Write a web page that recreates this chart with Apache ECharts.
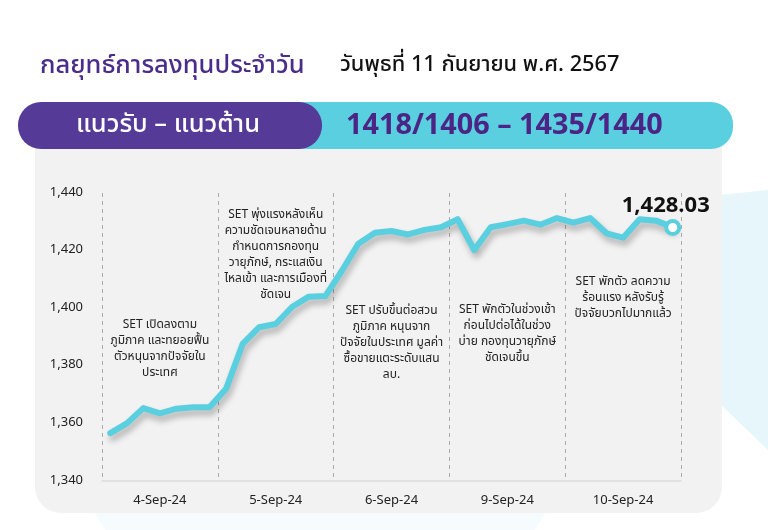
<!DOCTYPE html>
<html>
<head>
<meta charset="utf-8">
<script src="https://cdn.jsdelivr.net/npm/echarts@6/dist/echarts.min.js"></script>
<style>
html,body{margin:0;padding:0;background:#fff;}
#c{width:768px;height:530px;}
</style>
</head>
<body>
<div id="c"></div>
<script>
var days = ['4-Sep-24','5-Sep-24','6-Sep-24','9-Sep-24','10-Sep-24'];
var setIndex = [
  1356.6, 1360.0, 1365.3, 1363.5, 1365.1, 1365.6, 1365.6,
  1372.0, 1387.6, 1393.4, 1394.5, 1400.5, 1404.0, 1404.2,
  1413.0, 1422.4, 1426.2, 1426.8, 1425.6, 1427.2, 1428.1,
  1430.9, 1420.2, 1428.1, 1429.2, 1430.4, 1429.0, 1431.3,
  1429.7, 1431.3, 1426.0, 1424.5, 1430.9, 1430.4, 1428.03
];
var yTicks = [1340, 1360, 1380, 1400, 1420, 1440];
var notes = [
  ['SET เปิดลงตาม','ภูมิภาค และทยอยฟื้น','ตัวหนุนจากปัจจัยใน','ประเทศ'],
  ['SET พุ่งแรงหลังเห็น','ความชัดเจนหลายด้าน','กำหนดการกองทุน','วายุภักษ์, กระแสเงิน','ไหลเข้า และการเมืองที่','ชัดเจน'],
  ['SET ปรับขึ้นต่อสวน','ภูมิภาค หนุนจาก','ปัจจัยในประเทศ มูลค่า','ซื้อขายแตะระดับแสน','ลบ.'],
  ['SET พักตัวในช่วงเช้า','ก่อนไปต่อได้ในช่วง','บ่าย กองทุนวายุภักษ์','ชัดเจนขึ้น'],
  ['SET พักตัว ลดความ','ร้อนแรง หลังรับรู้','ปัจจัยบวกไปมากแล้ว']
];
var noteTopValue = [1396.6, 1435.1, 1401.5, 1402.1, 1411.8];
var titleText = 'กลยุทธ์การลงทุนประจำวัน';
var dateText = 'วันพุธที่ 11 กันยายน พ.ศ. 2567';
var barLeftText = 'แนวรับ – แนวต้าน';
var barRightText = '1418/1406 – 1435/1440';

var FONT = '"Noto Sans Thai","Noto Sans","DejaVu Sans",sans-serif';
var CYAN = '#5ACFDF';
var PURPLE = '#553B97';

var slots = setIndex.map(function(v, i){ return String(i); });
var seriesData = setIndex.map(function(v, i){
  if (i === setIndex.length - 1) {
    return {
      value: v,
      symbol: 'circle',
      symbolSize: 13,
      itemStyle: {color: '#fff', borderColor: CYAN, borderWidth: 4},
      label: {
        show: true, position: 'top', offset: [-7, 5],
        formatter: function(p){ return p.value.toLocaleString('en-US',{minimumFractionDigits:2}); },
        fontSize: 22, fontWeight: 'bold', color: '#111', fontFamily: FONT
      }
    };
  }
  return {value: v, symbol: 'none'};
});

var chart = echarts.init(document.getElementById('c'), null, {renderer: 'canvas'});

var bgGraphics = [
  {type: 'polygon', z: -10, silent: true,
   shape: {points: [[640,205],[700,197],[768,190],[768,450],[722,406],[660,350]]},
   style: {fill: '#E6F6FA'}},
  {type: 'polygon', z: -10, silent: true,
   shape: {points: [[95,513],[545,513],[535,530],[105,530]]},
   style: {fill: '#F6FCFD'}},
  {type: 'rect', z: -9, silent: true,
   shape: {x: 35, y: 140, width: 687, height: 373, r: [0,0,26,26]},
   style: {fill: '#F2F2F2'}},
  {type: 'rect', z: -8, silent: true,
   shape: {x: 290, y: 102, width: 443, height: 47, r: [0,22,22,0]},
   style: {fill: CYAN}},
  {type: 'rect', z: -7, silent: true,
   shape: {x: 18, y: 102, width: 304, height: 47, r: [23,23,23,23]},
   style: {fill: PURPLE}},
  {type: 'text', z: 5, silent: true, x: 40, y: 68,
   style: {text: titleText, fill: '#4A2C8A', font: '500 25.5px ' + FONT, textVerticalAlign: 'middle'}},
  {type: 'text', z: 5, silent: true, x: 340, y: 67,
   style: {text: dateText, fill: '#111', font: '500 21.8px ' + FONT, textVerticalAlign: 'middle'}},
  {type: 'text', z: 5, silent: true, x: 168, y: 127,
   style: {text: barLeftText, fill: '#fff', font: '500 25.5px ' + FONT, textAlign: 'center', textVerticalAlign: 'middle'}},
  {type: 'text', z: 5, silent: true, x: 346, y: 128,
   style: {text: barRightText, fill: '#4B2486', font: 'bold 28.8px ' + FONT, textVerticalAlign: 'middle'}}
];

var option = {
  animation: false,
  textStyle: {fontFamily: FONT},
  grid: {left: 102, right: 87, top: 193, bottom: 49, containLabel: false},
  xAxis: [
    {
      type: 'category', data: days, boundaryGap: true,
      axisLine: {show: true, lineStyle: {color: '#DCDCDC', width: 1.5}},
      axisTick: {show: false},
      axisLabel: {color: '#222', fontSize: 13, margin: 14, fontFamily: FONT},
      splitLine: {show: true, lineStyle: {color: '#AAAAAA', type: [4, 4], width: 1}}
    },
    {
      type: 'category', data: slots, boundaryGap: true, show: false,
      axisLine: {show: false}, axisTick: {show: false}, axisLabel: {show: false}, splitLine: {show: false}
    }
  ],
  yAxis: {
    type: 'value', min: yTicks[0], max: yTicks[yTicks.length - 1], interval: 20,
    axisLine: {show: false}, axisTick: {show: false}, splitLine: {show: false},
    axisLabel: {color: '#222', fontSize: 13, margin: 19, fontFamily: FONT,
      formatter: function(v){ return v.toLocaleString('en-US'); }}
  },
  series: [{
    type: 'line', xAxisIndex: 1, data: seriesData,
    lineStyle: {color: CYAN, width: 6, shadowColor: 'rgba(0,0,0,0.28)', shadowBlur: 6, shadowOffsetX: 2, shadowOffsetY: 5, cap: 'round', join: 'round'},
    itemStyle: {color: CYAN},
    z: 3
  }],
  graphic: bgGraphics
};
chart.setOption(option);

var noteGraphics = notes.map(function(lines, i){
  var p = chart.convertToPixel({xAxisIndex: 0, yAxisIndex: 0}, [days[i], noteTopValue[i]]);
  return {
    type: 'text', z: 4, silent: true, x: p[0], y: p[1],
    style: {text: lines.join('\n'), fill: '#222', font: '12px ' + FONT, lineHeight: 16, textAlign: 'center', textVerticalAlign: 'top'}
  };
});
chart.setOption({graphic: bgGraphics.concat(noteGraphics)});
</script>
</body>
</html>
